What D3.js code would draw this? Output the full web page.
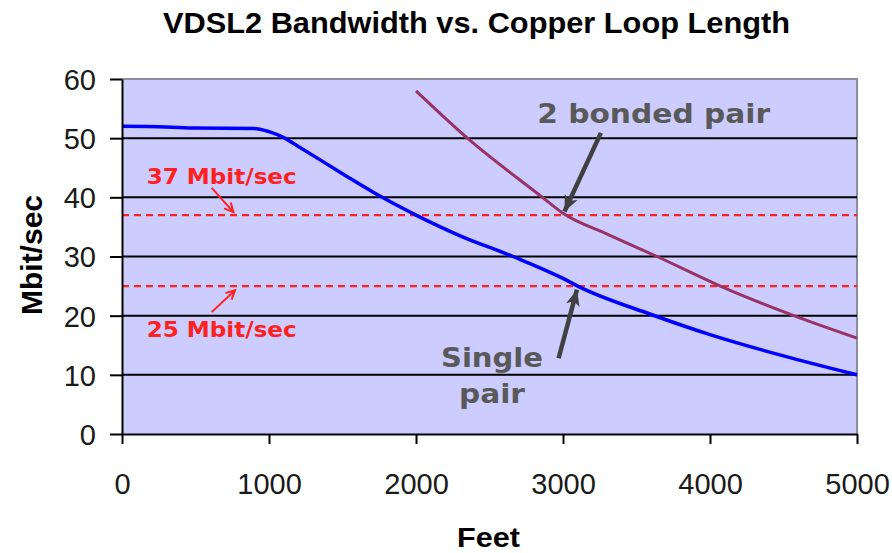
<!DOCTYPE html>
<html>
<head>
<meta charset="utf-8">
<script src="https://cdn.jsdelivr.net/npm/d3@7"></script>
<style>
html,body{margin:0;padding:0;background:#fff;}
svg{display:block;}
</style>
</head>
<body>
<svg id="chart" width="892" height="553"></svg>
<script>
// ---- data ----
const xTicks = [0, 1000, 2000, 3000, 4000, 5000];
const yTicks = [0, 10, 20, 30, 40, 50, 60];
const singleFeet = [0, 300, 500, 900, 1000, 1100, 1200, 1500, 1770, 2000, 2300, 2660, 3000, 3100, 3600, 4000, 4500, 5000];
const singleMbit = [52, 51.9, 51.7, 51.65, 51.1, 50.1, 48.6, 44, 40, 37, 33.5, 30, 26.3, 25, 20.2, 16.8, 13.2, 10];
const bondedFeet = [2000, 2350, 2860, 3000, 3300, 3640, 4070, 4570, 5000];
const bondedMbit = [58, 50, 40, 37.3, 33.8, 30, 25, 20, 16.2];
const thresholds = [37, 25];
const thresholdLabels = ["37 Mbit/sec", "25 Mbit/sec"];
const titleText = "VDSL2 Bandwidth vs. Copper Loop Length";
const xTitle = "Feet";
const yTitle = "Mbit/sec";

// ---- layout ----
const svg = d3.select("#chart");
const x = d3.scaleLinear().domain([0, 5000]).range([122, 857]);
const y = d3.scaleLinear().domain([0, 60]).range([434, 79]);

// plot background
svg.append("rect")
  .attr("x", x(0)).attr("y", y(60))
  .attr("width", x(5000) - x(0)).attr("height", y(0) - y(60))
  .attr("fill", "#CCCCFF");

// top / right border
svg.append("path")
  .attr("d", `M${x(0)},${y(60)}H${x(5000)}V${y(0)}`)
  .attr("fill", "none").attr("stroke", "#8c8c9c").attr("stroke-width", 2);

// gridlines
svg.append("g").selectAll("line").data(yTicks.filter(d => d > 0 && d < 60)).join("line")
  .attr("x1", x(0)).attr("x2", x(5000))
  .attr("y1", d => y(d)).attr("y2", d => y(d))
  .attr("stroke", "#000").attr("stroke-width", 2);

// threshold dashed lines
svg.append("g").selectAll("line").data(thresholds).join("line")
  .attr("x1", x(0)).attr("x2", x(5000))
  .attr("y1", d => y(d)).attr("y2", d => y(d))
  .attr("stroke", "#FF2020").attr("stroke-width", 2.2)
  .attr("stroke-dasharray", "7,5");

// lines
const line = d3.line().x(d => x(d[0])).y(d => y(d[1])).curve(d3.curveMonotoneX);
svg.append("path")
  .datum(singleFeet.map((f, i) => [f, singleMbit[i]]))
  .attr("d", line).attr("fill", "none")
  .attr("stroke", "#0000FF").attr("stroke-width", 3.5);
svg.append("path")
  .datum(bondedFeet.map((f, i) => [f, bondedMbit[i]]))
  .attr("d", line).attr("fill", "none")
  .attr("stroke", "#993366").attr("stroke-width", 3);

// axes
const yAxis = svg.append("g").attr("transform", `translate(${x(0)},0)`)
  .call(d3.axisLeft(y).tickValues(yTicks).tickFormat(d3.format("d")).tickSize(12).tickPadding(14).tickSizeOuter(0));
const xAxis = svg.append("g").attr("transform", `translate(0,${y(0)})`)
  .call(d3.axisBottom(x).tickValues(xTicks).tickFormat(d3.format("d")).tickSize(10).tickPadding(29).tickSizeOuter(0));
[yAxis, xAxis].forEach(g => {
  g.select(".domain").attr("stroke", "#000").attr("stroke-width", 2);
  g.selectAll(".tick line").attr("stroke", "#000").attr("stroke-width", 2);
  g.selectAll(".tick text")
    .attr("font-family", "Liberation Sans, Arial, sans-serif")
    .attr("font-size", 29).attr("fill", "#1a1a1a");
});
yAxis.selectAll(".tick text").attr("dy", "0.36em");

// title
svg.append("text")
  .attr("x", 163).attr("y", 33)
  .attr("font-family", "Liberation Sans, Arial, sans-serif")
  .attr("font-weight", "bold").attr("font-size", 29)
  .attr("textLength", 627).attr("lengthAdjust", "spacingAndGlyphs")
  .text(titleText);

// axis titles
svg.append("text")
  .attr("x", 457).attr("y", 547)
  .attr("font-family", "Liberation Sans, Arial, sans-serif")
  .attr("font-weight", "bold").attr("font-size", 28)
  .attr("textLength", 63).attr("lengthAdjust", "spacingAndGlyphs")
  .text(xTitle);
svg.append("text")
  .attr("transform", "translate(42,315) rotate(-90)")
  .attr("font-family", "Liberation Sans, Arial, sans-serif")
  .attr("font-weight", "bold").attr("font-size", 29)
  .attr("textLength", 120).attr("lengthAdjust", "spacingAndGlyphs")
  .text(yTitle);

// markers
const defs = svg.append("defs");
defs.append("marker").attr("id", "redHead")
  .attr("viewBox", "-1 -6 12 12").attr("refX", 9).attr("refY", 0)
  .attr("markerUnits", "userSpaceOnUse").attr("markerWidth", 12).attr("markerHeight", 12)
  .attr("orient", "auto")
  .append("path").attr("d", "M0,-4.5L9,0L0,4.5").attr("fill", "none")
  .attr("stroke", "#FF2020").attr("stroke-width", 2);
defs.append("marker").attr("id", "grayHead")
  .attr("viewBox", "0 -8 18 16").attr("refX", 16).attr("refY", 0)
  .attr("markerUnits", "userSpaceOnUse").attr("markerWidth", 18).attr("markerHeight", 16)
  .attr("orient", "auto")
  .append("path").attr("d", "M0,-7L16,0L0,7L4,0Z").attr("fill", "#404040");

// red threshold labels and arrows (data coordinates)
const redLabelPos = [[168, 42.25], [168, 16.35]];
const redArrows = [[[610, 41.6], [758, 37.5]], [[610, 20.6], [769, 24.3]]];
thresholdLabels.forEach((t, i) => {
  svg.append("text")
    .attr("x", x(redLabelPos[i][0])).attr("y", y(redLabelPos[i][1]))
    .attr("font-family", "DejaVu Sans, Verdana, sans-serif")
    .attr("font-weight", "bold").attr("font-size", 22).attr("fill", "#FF2020")
    .attr("textLength", 150).attr("lengthAdjust", "spacingAndGlyphs")
    .text(t);
  const a = redArrows[i];
  svg.append("line")
    .attr("x1", x(a[0][0])).attr("y1", y(a[0][1]))
    .attr("x2", x(a[1][0])).attr("y2", y(a[1][1]))
    .attr("stroke", "#FF2020").attr("stroke-width", 2)
    .attr("marker-end", "url(#redHead)");
});

// gray annotations
const grayArrows = [[[3258, 50.9], [3010, 37.6]], [[2970, 12.8], [3095, 24.4]]];
grayArrows.forEach(a => {
  svg.append("line")
    .attr("x1", x(a[0][0])).attr("y1", y(a[0][1]))
    .attr("x2", x(a[1][0])).attr("y2", y(a[1][1]))
    .attr("stroke", "#404040").attr("stroke-width", 4.5)
    .attr("marker-end", "url(#grayHead)");
});
const grayFont = "DejaVu Sans, Verdana, sans-serif";
svg.append("text")
  .attr("x", x(3617)).attr("y", y(52.5)).attr("text-anchor", "middle")
  .attr("font-family", grayFont).attr("font-weight", "bold").attr("font-size", 26)
  .attr("fill", "#595959")
  .attr("textLength", 233).attr("lengthAdjust", "spacingAndGlyphs")
  .text("2 bonded pair");
svg.append("text")
  .attr("x", x(2517)).attr("y", y(11.3)).attr("text-anchor", "middle")
  .attr("font-family", grayFont).attr("font-weight", "bold").attr("font-size", 26)
  .attr("fill", "#595959")
  .attr("textLength", 102).attr("lengthAdjust", "spacingAndGlyphs")
  .text("Single");
svg.append("text")
  .attr("x", x(2517)).attr("y", y(5.2)).attr("text-anchor", "middle")
  .attr("font-family", grayFont).attr("font-weight", "bold").attr("font-size", 26)
  .attr("fill", "#595959")
  .attr("textLength", 66).attr("lengthAdjust", "spacingAndGlyphs")
  .text("pair");
</script>
</body>
</html>
